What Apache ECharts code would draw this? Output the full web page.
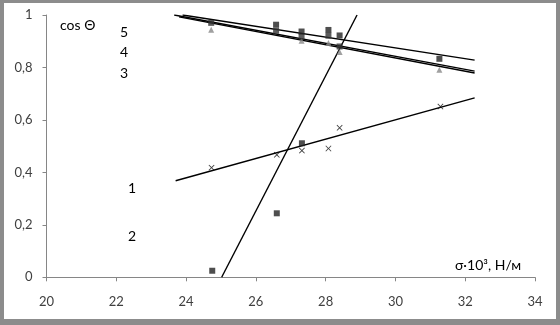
<!DOCTYPE html>
<html><head><meta charset="utf-8">
<script src="https://cdn.jsdelivr.net/npm/echarts@6/dist/echarts.min.js"></script>
<style>
html,body{margin:0;padding:0;background:#fff;}
#c{position:absolute;left:0;top:0;width:560px;height:325px;}
#frame{position:absolute;left:0;top:0;width:560px;height:325px;box-sizing:border-box;
border-style:solid;border-color:#8c8c8c;border-width:3px 4px 6px 4px;pointer-events:none;}
</style></head><body>
<div id="c"></div><div id="frame"></div>
<script>
// x ticks / y ticks
const xTicks = [20, 22, 24, 26, 28, 30, 32, 34];
const yTicks = [0, 0.2, 0.4, 0.6, 0.8, 1];
// Series 1 (crosses)
const s1x = [24.73, 26.6, 27.32, 28.08, 28.4, 31.29];
const s1y = [0.418, 0.467, 0.483, 0.491, 0.57, 0.651];
// Series 2 (squares, steep)
const s2x = [24.75, 26.6, 27.32];
const s2y = [0.025, 0.244, 0.511];
// Series 3 (triangles)
const s3x = [24.72, 27.31, 28.08, 28.4, 31.26];
const s3y = [0.944, 0.902, 0.893, 0.859, 0.791];
// Series 4 (squares)
const s4x = [24.72, 26.58, 27.31, 28.08, 28.4];
const s4y = [0.97, 0.94, 0.918, 0.921, 0.88];
// Series 5 (squares)
const s5x = [26.58, 27.31, 28.08, 28.4, 31.26];
const s5y = [0.963, 0.937, 0.943, 0.922, 0.833];
// trend lines (endpoints)
const t1x = [23.7, 32.27], t1y = [0.368, 0.684];
const t2x = [25.02, 28.9], t2y = [0, 1.0];
const t3x = [23.8, 32.27], t3y = [0.993, 0.779];
const t4x = [23.66, 32.27], t4y = [1.0, 0.786];
const t5x = [23.9, 32.27], t5y = [1.0, 0.828];
// annotation labels
const labels = ['cos Θ', '5', '4', '3', '1', '2', 'σ·10³, Н/м'];

const zip = (a, b) => a.map((v, i) => [v, b[i]]);
const cross = 'path://M0,1L1,0L5,4L9,0L10,1L6,5L10,9L9,10L5,6L1,10L0,9L4,5Z';
const font = 'Lato, "Open Sans", sans-serif';

const chart = echarts.init(document.getElementById('c'), null, {renderer: 'canvas'});
function sc(name, x, y, symbol, size, color) {
  return {name, type: 'scatter', data: zip(x, y), symbol, symbolSize: size,
    itemStyle: {color}, z: 3};
}
function tl(x, y) {
  return {type: 'line', data: zip(x, y), symbol: 'none',
    lineStyle: {color: '#000', width: 1.4}, z: 2};
}
const txt = (t, x, y, size, align) => ({type: 'text', left: x, top: y,
  style: {text: t, font: size + 'px ' + font, fill: '#000', textAlign: align || 'left'}});

chart.setOption({
  animation: false,
  grid: {left: 46.5, right: 25, top: 15, bottom: 47.7, containLabel: false},
  xAxis: {type: 'value', min: xTicks[0], max: xTicks[xTicks.length - 1], interval: 2,
    splitLine: {show: false},
    axisLine: {lineStyle: {color: '#868686'}},
    axisTick: {show: true, length: 4, lineStyle: {color: '#868686'}},
    axisLabel: {margin: 18, color: '#404040', fontSize: 13, fontFamily: font}},
  yAxis: {type: 'value', min: yTicks[0], max: yTicks[yTicks.length - 1], interval: 0.2,
    splitLine: {show: false},
    axisLine: {show: true, lineStyle: {color: '#868686'}},
    axisTick: {show: true, length: 4, lineStyle: {color: '#868686'}},
    axisLabel: {margin: 14, color: '#404040', fontSize: 13, fontFamily: font,
      formatter: v => String(Number(v.toFixed(1))).replace('.', ',')}},
  series: [
    tl(t1x, t1y), tl(t2x, t2y), tl(t3x, t3y), tl(t4x, t4y), tl(t5x, t5y),
    sc('1', s1x, s1y, cross, 6, '#111'),
    sc('2', s2x, s2y, 'rect', 6, '#222'),
    sc('3', s3x, s3y, 'triangle', 6, '#888'),
    sc('4', s4x, s4y, 'rect', 6, '#333'),
    sc('5', s5x, s5y, 'rect', 6, '#222')
  ],
  graphic: [
    txt(labels[0], 60, 18, 14),
    txt(labels[1], 120, 25, 14),
    txt(labels[2], 120, 45, 14),
    txt(labels[3], 120, 66, 14),
    txt(labels[4], 128, 181, 14),
    txt(labels[5], 128, 229, 14),
    txt(labels[6], 455, 258, 14)
  ]
});
</script></body></html>
